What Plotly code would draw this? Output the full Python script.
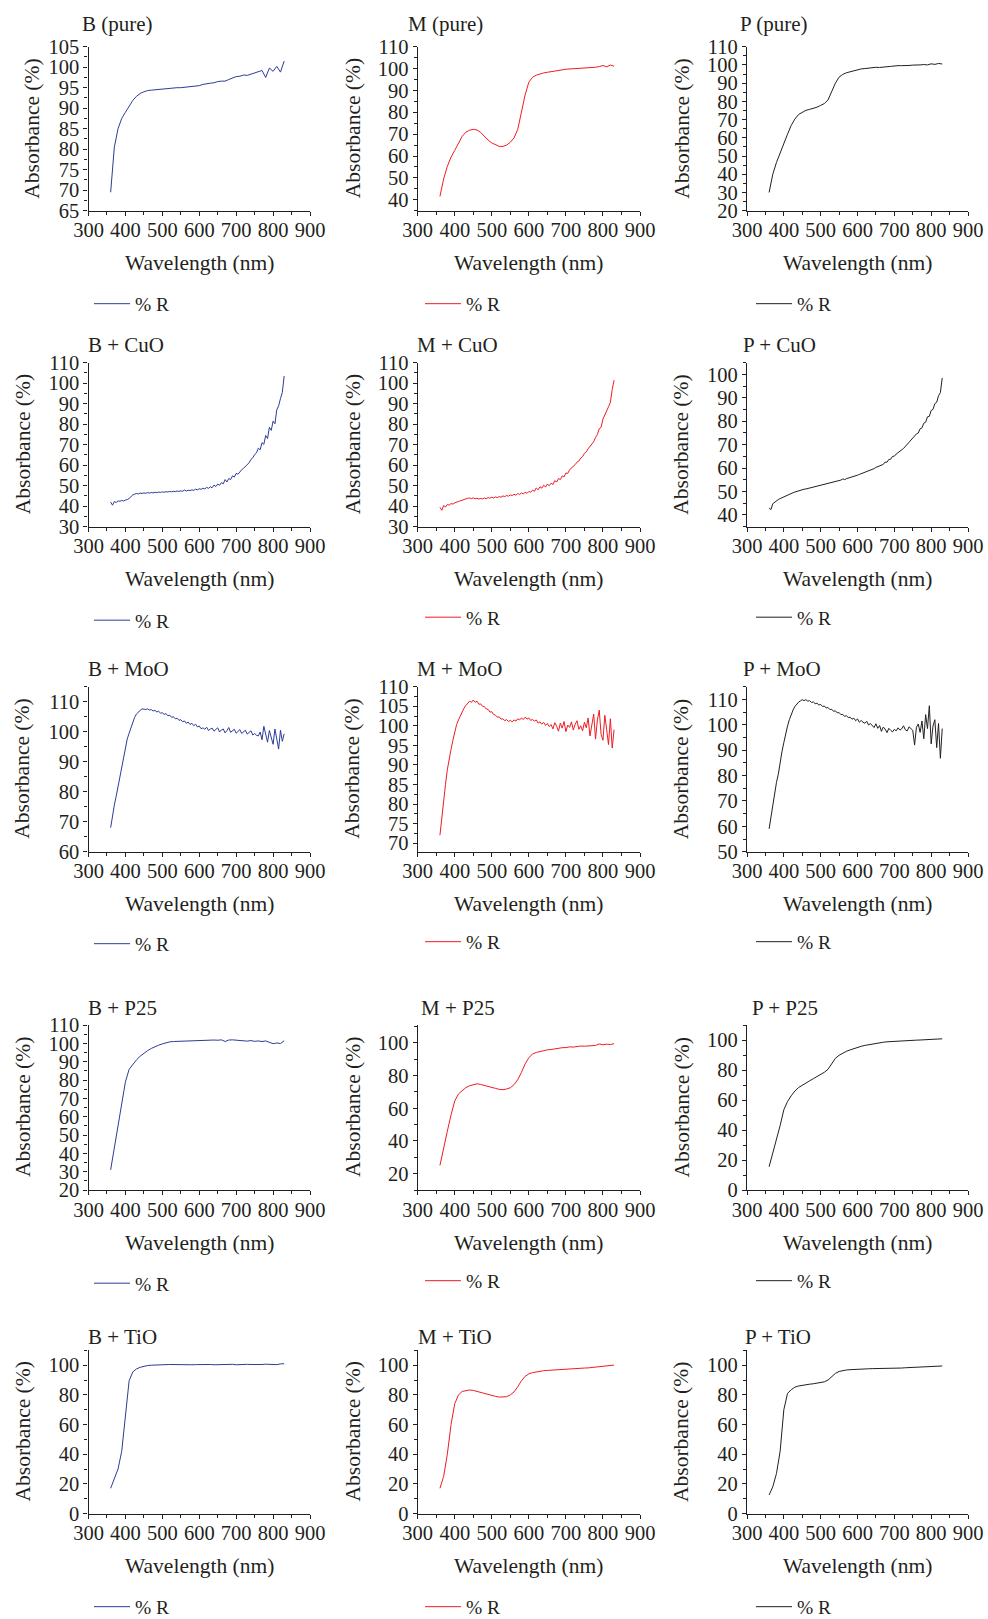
import plotly.graph_objects as go

W, H = 988, 1619
FONT = "Liberation Serif"
TEXT = "#231F20"
BLUE = "#2D3C96"
RED = "#ED1C24"
BLACK = "#231F20"

# Wavelength grids (nm)
WL_COARSE = [360, 370, 380, 390, 400, 410, 420, 430, 440, 450,
             460, 470, 480, 490, 500, 510, 520, 530, 540, 550,
             560, 570, 580, 590, 600, 610, 620, 630, 640, 650,
             660, 670, 680, 690, 700, 710, 720, 730, 740, 750,
             760, 770, 780, 790, 800, 810, 820, 830]
WL_FINE = [360, 365, 370, 375, 380, 385, 390, 395, 400, 405,
           410, 415, 420, 425, 430, 435, 440, 445, 450, 455,
           460, 465, 470, 475, 480, 485, 490, 495, 500, 505,
           510, 515, 520, 525, 530, 535, 540, 545, 550, 555,
           560, 565, 570, 575, 580, 585, 590, 595, 600, 605,
           610, 615, 620, 625, 630, 635, 640, 645, 650, 655,
           660, 665, 670, 675, 680, 685, 690, 695, 700, 705,
           710, 715, 720, 725, 730, 735, 740, 745, 750, 755,
           760, 765, 770, 775, 780, 785, 790, 795, 800, 805,
           810, 815, 820, 825, 830]

# Absorbance (%) -- pure pigments
B_PURE = [69.5, 80.5, 85.0, 87.5, 89.0, 90.6, 91.9, 92.9, 93.6, 94.0,
          94.3, 94.4, 94.5, 94.6, 94.7, 94.8, 94.9, 94.9, 95.0, 95.0,
          95.1, 95.2, 95.3, 95.4, 95.5, 95.8, 96.0, 96.1, 96.2, 96.5,
          96.6, 96.6, 97.0, 97.3, 97.7, 97.8, 98.1, 98.0, 98.3, 98.7,
          98.9, 99.2, 97.5, 99.8, 99.0, 100.2, 98.8, 101.5]
M_PURE = [41.5, 49.5, 55.3, 59.5, 62.6, 66.0, 69.0, 70.9, 71.8, 72.2,
          71.9, 70.8, 69.0, 67.3, 66.0, 65.2, 64.4, 64.4, 65.0, 66.3,
          68.3, 72.2, 80.0, 88.0, 93.8, 96.0, 97.0, 97.6, 98.0, 98.3,
          98.5, 98.8, 99.1, 99.4, 99.7, 99.8, 99.9, 100.0, 100.0, 100.1,
          100.2, 100.3, 100.6, 100.9, 101.4, 100.8, 101.6, 101.1]
P_PURE = [30.0, 40.0, 46.5, 52.0, 57.3, 62.0, 66.8, 70.3, 72.8, 74.2,
          75.1, 75.6, 76.0, 76.8, 77.8, 78.8, 80.8, 85.5, 90.0, 93.3,
          94.8, 95.7, 96.3, 96.9, 97.3, 97.8, 98.0, 98.3, 98.5, 98.7,
          98.6, 99.0, 99.0, 99.2, 99.5, 99.6, 99.6, 99.5, 99.7, 99.9,
          99.8, 100.0, 100.2, 100.0, 100.6, 100.3, 100.8, 100.5]

# Absorbance (%) -- with CuO
B_CUO = [42.0, 40.5, 42.3, 41.8, 42.6, 42.4, 42.8, 42.5, 43.0, 43.2,
         43.8, 44.8, 45.5, 45.9, 46.2, 46.0, 46.4, 46.2, 46.5, 46.3,
         46.6, 46.4, 46.7, 46.5, 46.8, 46.6, 46.9, 46.7, 47.0, 46.8,
         47.1, 46.9, 47.2, 47.0, 47.3, 47.1, 47.4, 47.2, 47.5, 47.3,
         47.9, 47.4, 47.8, 47.6, 48.0, 47.7, 48.3, 48.0, 48.5, 48.2,
         48.8, 48.4, 49.2, 48.7, 49.5, 49.0, 50.3, 49.6, 50.8, 50.2,
         51.5, 50.9, 53.0, 51.8, 53.5, 53.0, 54.8, 54.2, 56.0, 55.6,
         57.0, 57.8, 58.5, 59.5, 60.3, 61.2, 62.8, 63.6, 65.2, 66.0,
         68.3, 67.5, 71.0, 70.2, 74.5, 73.0, 78.5, 77.0, 81.5, 80.2,
         87.0, 89.0, 92.5, 95.5, 103.5]
M_CUO = [39.5, 38.0, 40.3, 39.6, 40.8, 40.5, 41.3, 41.0, 41.6, 41.8,
         42.3, 42.6, 43.0, 43.4, 43.6, 43.9, 44.0, 43.7, 44.1, 43.6,
         43.9, 43.5, 43.8, 43.6, 44.0, 43.7, 44.2, 43.9, 44.4, 44.0,
         44.5, 44.2, 44.7, 44.4, 45.0, 44.7, 45.2, 44.9, 45.5, 45.2,
         45.8, 45.4, 46.2, 45.7, 46.5, 46.0, 46.8, 46.3, 47.2, 46.8,
         47.8, 47.3, 48.9, 48.0, 49.5, 48.8, 50.2, 49.4, 50.8, 50.0,
         51.2, 50.6, 52.5, 51.8, 53.5, 53.0, 54.8, 54.3, 56.2, 56.0,
         57.8, 58.5, 59.5, 60.3, 61.5, 62.0, 63.5, 64.2, 65.8, 66.5,
         68.0, 69.3, 70.0, 71.5, 73.5, 75.0, 77.8, 78.5, 82.5, 85.0,
         86.5, 88.5, 90.5, 97.0, 101.5]
P_CUO = [43.0, 42.3, 44.8, 45.5, 46.0, 46.6, 47.0, 47.4, 47.8, 48.2,
         48.6, 48.9, 49.2, 49.5, 49.8, 50.1, 50.3, 50.6, 50.8, 51.0,
         51.1, 51.3, 51.4, 51.6, 51.8, 51.9, 52.1, 52.3, 52.5, 52.7,
         52.9, 53.1, 53.3, 53.5, 53.8, 54.0, 54.3, 54.5, 54.7, 54.9,
         55.4, 55.1, 55.5, 55.7, 56.0, 56.2, 56.5, 56.7, 57.0, 57.3,
         57.6, 57.8, 58.2, 58.5, 58.8, 59.1, 59.5, 59.8, 60.3, 60.6,
         61.0, 61.5, 61.6, 62.6, 62.5, 63.7, 63.8, 65.0, 65.1, 66.0,
         66.5, 67.0, 67.8, 68.4, 69.3, 70.0, 70.8, 71.6, 72.6, 73.5,
         74.6, 75.0, 76.8, 77.2, 79.2, 79.6, 81.9, 82.1, 84.6, 85.1,
         87.5, 88.1, 90.9, 92.2, 98.5]

# Absorbance (%) -- with MoO
B_MOO = [68.0, 72.5, 75.5, 78.5, 81.6, 85.0, 88.5, 91.8, 94.8, 97.6,
         99.5, 101.4, 103.1, 104.8, 105.9, 106.7, 107.1, 107.6, 107.5, 107.4,
         107.6, 107.2, 107.4, 106.9, 107.1, 106.6, 106.8, 106.2, 106.3, 105.8,
         106.0, 105.3, 105.5, 104.8, 105.0, 104.3, 104.5, 103.8, 104.0, 103.3,
         103.6, 102.8, 103.2, 102.4, 102.8, 102.0, 102.5, 101.6, 101.9, 101.0,
         101.3, 100.8, 101.5, 100.4, 100.9, 101.2, 100.2, 100.7, 101.3, 99.9,
         100.6, 100.9, 99.6, 100.4, 101.4, 99.8, 100.2, 100.8, 99.5, 100.3,
         100.7, 99.4, 100.1, 100.5, 99.2, 99.8, 100.3, 98.9, 99.4, 98.8,
         98.6, 99.9, 97.3, 101.8, 99.0, 96.5, 100.4, 97.8, 95.8, 100.9,
         97.2, 94.2, 100.5, 96.8, 99.3]
M_MOO = [72.0, 77.0, 81.0, 85.0, 88.8, 92.0, 94.0, 96.3, 98.7, 100.3,
         101.5, 102.6, 103.6, 104.5, 105.2, 105.9, 106.3, 106.0, 106.6, 106.0,
         106.3, 105.5, 105.6, 105.0, 104.9, 104.3, 104.2, 103.5, 103.6, 102.9,
         102.7, 102.2, 102.3, 101.7, 101.8, 101.3, 101.6, 101.1, 101.4, 101.0,
         101.5, 101.2, 101.8, 101.5, 102.0, 101.6, 102.2, 101.7, 102.0, 101.4,
         101.6, 101.2, 101.5, 100.7, 101.0, 100.4, 100.9, 100.1, 100.6, 99.8,
         100.3, 99.2, 100.8, 99.9, 98.6, 100.7, 99.4, 101.1, 98.5, 100.2,
         99.6, 101.0, 98.9, 100.4, 101.3, 99.1, 100.0, 98.7, 100.9, 99.5,
         102.0, 97.4, 100.8, 103.0, 96.6, 101.5, 104.0, 97.8, 96.3, 102.7,
         99.0, 95.2, 101.8, 94.3, 99.0]
P_MOO = [59.0, 63.5, 68.5, 73.8, 77.3, 80.5, 85.5, 89.5, 93.0, 96.5,
         99.5, 102.0, 104.2, 105.8, 107.2, 108.3, 108.9, 109.4, 109.9, 109.5,
         109.9, 109.3, 109.5, 108.8, 109.0, 108.3, 108.5, 107.8, 108.0, 107.2,
         107.4, 106.6, 106.8, 106.0, 106.1, 105.3, 105.5, 104.7, 104.8, 104.0,
         104.1, 103.3, 103.6, 102.8, 103.0, 102.2, 102.6, 101.6, 102.3, 101.0,
         101.7, 101.0, 100.6, 101.4, 99.9, 100.5, 99.6, 98.9, 100.4, 98.6,
         99.7, 97.4, 99.1, 98.3, 96.9, 98.6, 97.8, 97.2, 98.2, 97.6,
         98.8, 97.9, 98.4, 99.6, 98.0, 97.6, 99.2, 98.4, 97.8, 92.0,
         99.0, 100.3, 97.0, 101.5, 94.5, 104.0, 98.5, 107.5, 92.5, 99.5,
         102.0, 91.0, 100.5, 86.8, 98.5]

# Absorbance (%) -- with P25
B_P25 = [31.0, 43.5, 55.0, 66.0, 79.0, 85.8, 88.5, 91.0, 93.0, 94.7,
         96.0, 97.2, 98.2, 99.0, 99.7, 100.3, 100.8, 101.0, 101.1, 101.2,
         101.2, 101.3, 101.4, 101.4, 101.5, 101.6, 101.8, 101.6, 101.8, 101.7,
         101.9, 101.0, 101.8, 101.9, 101.7, 101.4, 101.6, 101.2, 101.5, 101.1,
         101.3, 101.0, 101.3, 100.7, 99.8, 100.2, 99.9, 101.4]
M_P25 = [25.0, 36.5, 46.0, 56.0, 64.5, 68.8, 71.0, 72.7, 73.8, 74.5,
         75.0, 74.6, 73.9, 73.2, 72.7, 72.2, 71.6, 71.4, 71.8, 72.6,
         74.5, 77.5, 82.0, 87.2, 91.0, 93.2, 94.2, 94.8, 95.5, 95.8,
         96.0, 96.5, 96.8, 97.1, 97.2, 97.6, 97.5, 97.9, 98.1, 98.0,
         98.3, 98.6, 98.5, 99.4, 98.9, 99.3, 99.0, 99.6]
P_P25 = [15.5, 24.5, 32.5, 43.0, 53.5, 59.0, 62.8, 66.0, 68.3, 70.0,
         71.5, 72.8, 74.2, 75.6, 77.0, 78.5, 80.5, 84.5, 87.8, 89.8,
         91.3, 92.5, 93.4, 94.3, 95.1, 95.8, 96.4, 96.9, 97.4, 97.9,
         98.2, 98.5, 98.8, 99.0, 99.2, 99.4, 99.5, 99.6, 99.6, 99.8,
         99.9, 100.0, 100.2, 100.3, 100.4, 100.5, 100.7, 100.8]

# Absorbance (%) -- with TiO
B_TIO = [17.0, 23.0, 30.0, 42.0, 64.0, 89.5, 95.5, 97.5, 98.6, 99.3,
         99.8, 100.0, 100.2, 100.3, 100.4, 100.4, 100.5, 100.4, 100.5, 100.5,
         100.4, 100.5, 100.3, 100.4, 100.5, 100.3, 100.4, 100.5, 100.3, 100.4,
         100.5, 100.2, 100.4, 100.6, 100.3, 100.5, 100.4, 100.6, 100.5, 100.4,
         100.6, 100.5, 100.7, 100.5, 100.8, 100.4, 100.9, 101.0]
M_TIO = [17.0, 25.0, 40.0, 60.0, 74.0, 80.0, 82.3, 83.0, 83.3, 83.0,
         82.3, 81.5, 80.8, 80.0, 79.5, 79.0, 78.5, 78.4, 78.8, 80.0,
         82.0, 85.5, 89.5, 92.5, 94.2, 95.0, 95.6, 96.0, 96.3, 96.5,
         96.7, 96.9, 97.0, 97.2, 97.3, 97.5, 97.6, 97.8, 97.9, 98.1,
         98.2, 98.4, 98.6, 98.8, 99.0, 99.2, 99.7, 100.1]
P_TIO = [12.5, 18.0, 27.0, 42.0, 70.0, 81.0, 83.5, 85.2, 86.0, 86.5,
         86.9, 87.2, 87.5, 87.8, 88.2, 88.8, 90.0, 92.5, 94.5, 95.8,
         96.4, 96.8, 97.0, 97.2, 97.3, 97.4, 97.5, 97.6, 97.7, 97.7,
         97.8, 97.9, 97.9, 98.0, 98.0, 98.1, 98.1, 98.3, 98.4, 98.5,
         98.5, 98.8, 98.9, 99.0, 99.1, 99.3, 99.2, 99.5]

TITLES = ["B (pure)", "M (pure)", "P (pure)",
          "B + CuO", "M + CuO", "P + CuO",
          "B + MoO", "M + MoO", "P + MoO",
          "B + P25", "M + P25", "P + P25",
          "B + TiO", "M + TiO", "P + TiO"]
SERIES = [(WL_COARSE, B_PURE), (WL_COARSE, M_PURE), (WL_COARSE, P_PURE),
          (WL_FINE, B_CUO), (WL_FINE, M_CUO), (WL_FINE, P_CUO),
          (WL_FINE, B_MOO), (WL_FINE, M_MOO), (WL_FINE, P_MOO),
          (WL_COARSE, B_P25), (WL_COARSE, M_P25), (WL_COARSE, P_P25),
          (WL_COARSE, B_TIO), (WL_COARSE, M_TIO), (WL_COARSE, P_TIO)]
COLORS = [BLUE, RED, BLACK]
SERIES_NAME = "% R"
X_TITLE = "Wavelength (nm)"
Y_TITLE = "Absorbance (%)"
X_RANGE = [300, 900]

# y-axis range and major tick step for each panel
Y_RANGES = [[65, 105], [35, 110], [20, 110],
            [30, 110], [30, 110], [35, 105],
            [60, 115], [67.8, 110], [50, 115],
            [20, 110], [10, 111], [0, 110],
            [0, 110], [0, 110], [0, 110]]
Y_DTICK = [5, 10, 10,
           10, 10, 10,
           10, 5, 10,
           10, 20, 20,
           20, 20, 20]

# ---- geometry in pixels ----
COL_X = [(88.5, 310.0), (417.7, 640.0), (747.0, 968.0)]
ROW_Y = [(46.7, 210.7), (362.7, 526.7), (686.7, 851.7), (1025.0, 1190.0), (1350.4, 1513.5)]
TITLE_X = [[79.5, 405.5, 737.5], [85.5, 414.5, 740.5], [85.5, 414.5, 740.5],
           [85.5, 418.5, 749.5], [85.5, 415.5, 742.5]]
TITLE_Y = [24, 345, 669, 1008, 1337]
YTITLE_X = [[32, 352.5, 682], [22.5, 352.5, 681], [22.5, 352.5, 681],
            [22.5, 352.5, 681], [22.5, 352.5, 681]]
LEG_LABEL_X = [135, 466, 797]   # left edge of the "% R" label
LEG_Y = [[304, 304, 304], [620.5, 617.5, 617.5], [944, 942, 942],
         [1283.5, 1281, 1281], [1607, 1607, 1607]]
LEG_ITEM_W = 36

TICK_SIZE = 20.5
AXIS_TITLE_SIZE = 21.5
PANEL_TITLE_SIZE = 21
LEGEND_SIZE = 19.5


def fx(px):
    return px / W


def fy(py):
    return 1 - py / H


fig = go.Figure()
layout = dict(
    width=W, height=H, margin=dict(l=0, r=0, t=0, b=0, autoexpand=False),
    paper_bgcolor="white", plot_bgcolor="white",
    font=dict(family=FONT, size=TICK_SIZE, color=TEXT),
    annotations=[],
)

axis_common = dict(
    showline=True, linecolor=TEXT, linewidth=1.3, mirror=False,
    showgrid=False, zeroline=False,
    ticks="outside", ticklen=4, tickwidth=1.3, tickcolor=TEXT,
    tickfont=dict(family=FONT, size=TICK_SIZE, color=TEXT),
    fixedrange=True,
)

for i, ((xs, ys), title) in enumerate(zip(SERIES, TITLES)):
    r, c = divmod(i, 3)
    n = i + 1
    sfx = "" if n == 1 else str(n)
    xa, ya, lg = "x" + sfx, "y" + sfx, "legend" + sfx
    x0, x1 = COL_X[c]
    y0, y1 = ROW_Y[r]

    fig.add_trace(go.Scatter(
        x=xs, y=ys, mode="lines", name=SERIES_NAME,
        line=dict(color=COLORS[c], width=1),
        xaxis=xa, yaxis=ya, legend=lg, showlegend=True,
    ))

    layout["xaxis" + sfx] = dict(
        axis_common, domain=[fx(x0), fx(x1)], anchor=ya,
        range=X_RANGE, tick0=300, dtick=100, ticklabelstandoff=-3,
        minor=dict(ticks="outside", ticklen=3, tickwidth=1.2, tickcolor=TEXT, dtick=50, tick0=300),
    )
    layout["yaxis" + sfx] = dict(
        axis_common, domain=[fy(y1), fy(y0)], anchor=xa,
        range=Y_RANGES[i], tick0=0, dtick=Y_DTICK[i],
        minor=dict(ticks="outside", ticklen=3, tickwidth=1.2, tickcolor=TEXT,
                   dtick=Y_DTICK[i] / 2, tick0=0),
    )
    # legend label sits itemwidth + 10 px right of the legend origin
    layout[lg] = dict(
        x=fx(LEG_LABEL_X[c] - LEG_ITEM_W - 10), y=fy(LEG_Y[r][c]),
        xanchor="left", yanchor="middle",
        xref="paper", yref="paper", bgcolor="rgba(0,0,0,0)", borderwidth=0,
        font=dict(family=FONT, size=LEGEND_SIZE, color=TEXT), itemwidth=LEG_ITEM_W,
    )

    # panel title
    layout["annotations"].append(dict(
        text=title, x=fx(TITLE_X[r][c]), y=fy(TITLE_Y[r]), xref="paper", yref="paper",
        xanchor="left", yanchor="middle", showarrow=False,
        font=dict(family=FONT, size=PANEL_TITLE_SIZE, color=TEXT),
    ))
    # axis titles
    layout["annotations"].append(dict(
        text=X_TITLE, x=fx((x0 + x1) / 2), y=fy(y1 + 52.5), xref="paper", yref="paper",
        xanchor="center", yanchor="middle", showarrow=False,
        font=dict(family=FONT, size=AXIS_TITLE_SIZE, color=TEXT),
    ))
    layout["annotations"].append(dict(
        text=Y_TITLE, x=fx(YTITLE_X[r][c]), y=fy((y0 + y1) / 2), xref="paper", yref="paper",
        xanchor="center", yanchor="middle", textangle=-90, showarrow=False,
        font=dict(family=FONT, size=AXIS_TITLE_SIZE, color=TEXT),
    ))

fig.update_layout(**layout)
fig.write_html("out.html")
